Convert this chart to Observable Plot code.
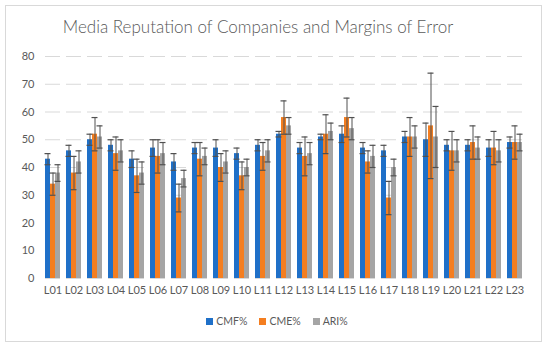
<!DOCTYPE html>
<html>
<head>
<meta charset="utf-8">
<script src="https://cdn.jsdelivr.net/npm/d3@7"></script>
<script src="https://cdn.jsdelivr.net/npm/@observablehq/plot@0.6"></script>
<style>
  body { margin: 0; background: #fff; }
  #wrap { position: relative; width: 550px; height: 347px; overflow: hidden; font-family: Lato, "Open Sans", sans-serif; }
  #frame { position: absolute; left: 5px; top: 5px; width: 537px; height: 337px; border: 1px solid #d9d9d9; box-sizing: border-box; }
  #title { position: absolute; left: 0; width: 516px; top: 16px; text-align: center; font-size: 17px; color: #595959; font-weight: 300; }
  #chart { position: absolute; left: 0; top: 40px; }
  #legend { position: absolute; left: 0; width: 554px; top: 315px; display: flex; justify-content: center; gap: 12px; font-size: 10.5px; color: #595959; }
  #legend span.sw { display: inline-block; width: 7px; height: 7px; margin-right: 3px; vertical-align: 0px; }
</style>
</head>
<body>
<div id="wrap">
  <div id="frame"></div>
  <div id="title">Media Reputation of Companies and Margins of Error</div>
  <div id="chart"></div>
  <div id="legend"></div>
</div>
<script>
const categories = ["L01","L02","L03","L04","L05","L06","L07","L08","L09","L10","L11","L12","L13","L14","L15","L16","L17","L18","L19","L20","L21","L22","L23"];
const seriesNames = ["CMF%","CME%","ARI%"];
const seriesColors = ["#1f70c8","#f47e20","#a5a5a5"];
const cmf    = [43,46,50,48,43,47,42,47,47,45,48,52,47,51,52,47,46,51,50,48,48,47,49];
const cmfErr = [ 2, 2, 2, 2, 3, 3, 3, 2, 3, 2, 2, 1, 2, 1, 3, 2, 2, 2, 6, 2, 2, 3, 2];
const cme    = [34,38,52,45,37,44,29,43,40,37,44,58,44,52,58,42,29,51,55,46,49,47,49];
const cmeErr = [ 4, 6, 6, 6, 6, 6, 5, 6, 5, 5, 5, 6, 7, 7, 7, 4, 6, 7,19, 7, 6, 6, 6];
const ari    = [38,42,51,46,38,45,36,44,42,40,46,55,45,53,54,44,40,51,51,46,47,46,49];
const ariErr = [ 3, 4, 4, 4, 4, 4, 3, 3, 4, 3, 4, 3, 4, 3, 4, 4, 3, 4,11, 4, 4, 4, 3];
const yTicks = [0,10,20,30,40,50,60,70,80];

const values = [cmf, cme, ari];
const errs = [cmfErr, cmeErr, ariErr];
const data = [];
categories.forEach((c, i) => {
  seriesNames.forEach((s, j) => {
    data.push({cat: c, series: s, value: values[j][i], lo: values[j][i] - errs[j][i], hi: values[j][i] + errs[j][i]});
  });
});

const chart = Plot.plot({
  width: 550,
  height: 265,
  marginLeft: 37,
  marginRight: 20,
  marginTop: 16,
  marginBottom: 27,
  style: {fontFamily: "Lato, 'Open Sans', sans-serif", fontSize: "11px", color: "#595959", background: "transparent"},
  fx: {domain: categories, padding: 0.3, label: null, tickSize: 0, tickPadding: 8},
  x: {domain: seriesNames, padding: 0, axis: null},
  y: {domain: [0, 80], ticks: yTicks, label: null, tickSize: 0, tickPadding: 11},
  color: {domain: seriesNames, range: seriesColors},
  marks: [
    Plot.gridY(yTicks, {stroke: "#d9d9d9", strokeOpacity: 1, facetAnchor: null}),
    Plot.barY(data, {fx: "cat", x: "series", y: "value", fill: "series"}),
    Plot.ruleX(data, {fx: "cat", x: "series", y1: "lo", y2: "hi", stroke: "#505050", strokeWidth: 1}),
    Plot.tickY(data, {fx: "cat", x: "series", y: "hi", stroke: "#505050", strokeWidth: 1.2, insetLeft: -0.5, insetRight: -0.5}),
    Plot.tickY(data, {fx: "cat", x: "series", y: "lo", stroke: "#505050", strokeWidth: 1.2, insetLeft: -0.5, insetRight: -0.5})
  ]
});
document.getElementById("chart").appendChild(chart);

const legend = document.getElementById("legend");
seriesNames.forEach((s, j) => {
  const item = document.createElement("div");
  item.innerHTML = `<span class="sw" style="background:${seriesColors[j]}"></span>${s}`;
  legend.appendChild(item);
});
</script>
</body>
</html>
